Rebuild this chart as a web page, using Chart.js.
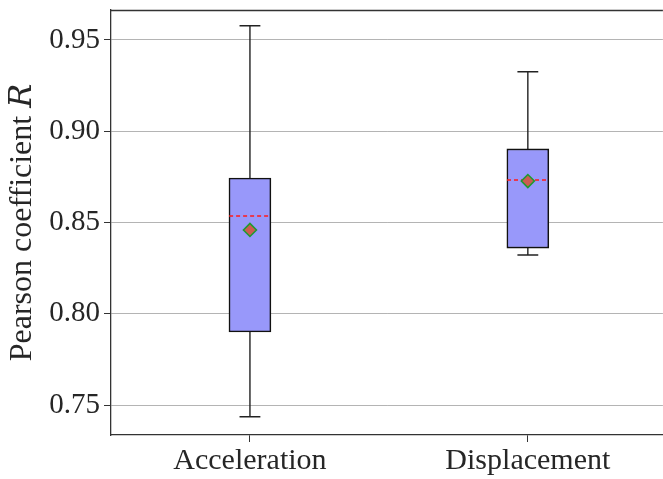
<!DOCTYPE html>
<html><head><meta charset="utf-8">
<script src="https://cdn.jsdelivr.net/npm/chart.js@4"></script>
<style>html,body{margin:0;padding:0;background:#fff;overflow:hidden;width:663px;height:479px}</style>
</head><body>
<canvas id="c" width="671" height="479"></canvas>
<script>
// ---- data ----
const categories = ['Acceleration', 'Displacement'];
const whiskerLow = [0.7436, 0.8322];
const q1 = [0.7900, 0.8360];
const median = [0.8536, 0.8733];
const q3 = [0.8744, 0.8903];
const whiskerHigh = [0.9578, 0.9326];
const mean = [0.8459, 0.8727];
const yTicks = [0.75, 0.80, 0.85, 0.90, 0.95];
const yRange = [0.7336, 0.9664];
const xRange = [-0.5, 1.486];

// ---- styling constants ----
const BOX_W = 0.15;           // box width in category units
const CAP_HALF = BOX_W / 4;
const MED_HALF = BOX_W / 2;
const FONT = "'Liberation Serif', 'DejaVu Serif', serif";

const positions = categories.map((_, i) => i);

const whiskerData = [];
positions.forEach(i => {
  whiskerData.push({x: i, y: q3[i]}, {x: i, y: whiskerHigh[i]}, {x: i, y: null});
  whiskerData.push({x: i, y: q1[i]}, {x: i, y: whiskerLow[i]}, {x: i, y: null});
  whiskerData.push({x: i - CAP_HALF, y: whiskerHigh[i]}, {x: i + CAP_HALF, y: whiskerHigh[i]}, {x: i, y: null});
  whiskerData.push({x: i - CAP_HALF, y: whiskerLow[i]}, {x: i + CAP_HALF, y: whiskerLow[i]}, {x: i, y: null});
});
const medianData = [];
positions.forEach(i => {
  medianData.push({x: i - MED_HALF, y: median[i]}, {x: i + MED_HALF, y: median[i]}, {x: i, y: null});
});
const boxData = positions.map(i => ({x: i, y: [q1[i], q3[i]]}));
const meanData = positions.map(i => ({x: i, y: mean[i]}));

const topSpine = {
  id: 'topSpine',
  afterDatasetsDraw(chart) {
    const a = chart.chartArea, ctx = chart.ctx;
    ctx.save();
    ctx.strokeStyle = '#333';
    ctx.lineWidth = 1.3;
    ctx.beginPath();
    ctx.moveTo(a.left, a.top + 0.5);
    ctx.lineTo(a.right, a.top + 0.5);
    ctx.stroke();
    ctx.restore();
  }
};

new Chart(document.getElementById('c'), {
  type: 'bar',
  data: {
    datasets: [
      { type: 'scatter', data: meanData, order: 0,
        pointStyle: 'rectRot', pointRadius: 6.5, pointBackgroundColor: '#cd5c50',
        pointBorderColor: '#1f9a30', pointBorderWidth: 1.6 },
      { type: 'line', data: medianData, order: 1, borderColor: '#ff1a1a', borderWidth: 1.5,
        borderDash: [4, 3], pointRadius: 0, spanGaps: false, tension: 0 },
      { type: 'bar', data: boxData, order: 2, backgroundColor: '#9898fa', borderColor: '#111',
        borderWidth: 1.6, borderSkipped: false, barThickness: 42 },
      { type: 'line', data: whiskerData, order: 3, borderColor: '#222', borderWidth: 1.4,
        pointRadius: 0, spanGaps: false, tension: 0 }
    ]
  },
  options: {
    responsive: false,
    animation: false,
    layout: { padding: { top: 10, left: 0, right: 0, bottom: 0 } },
    plugins: { legend: { display: false }, tooltip: { enabled: false } },
    scales: {
      x: {
        type: 'linear', min: xRange[0], max: xRange[1], offset: false,
        afterBuildTicks: s => { s.ticks = positions.map(v => ({value: v})); },
        afterFit: s => { s.height = 44; s.paddingLeft = 0; s.paddingRight = 0; },
        ticks: { callback: v => categories[v], font: { family: FONT, size: 30 }, color: '#262626', padding: 1, maxRotation: 0 },
        grid: { offset: false, drawOnChartArea: false, drawTicks: true, tickLength: 7, tickColor: '#333', lineWidth: 1 },
        border: { display: true, color: '#333', width: 1.3 }
      },
      y: {
        type: 'linear', min: yRange[0], max: yRange[1],
        afterBuildTicks: s => { s.ticks = yTicks.map(v => ({value: v})); },
        afterFit: s => { s.width = 111; s.paddingTop = 0; s.paddingBottom = 0; },
        ticks: { callback: v => v.toFixed(2), font: { family: FONT, size: 29 }, color: '#262626', padding: 4 },
        grid: { color: '#b4b4b4', lineWidth: 1, tickColor: '#333', tickLength: 7 },
        border: { display: true, color: '#333', width: 1.3 },
        title: { display: true, text: 'Pearson coefficient \u{1D445}', font: { family: FONT, size: 32 }, color: '#262626', padding: { top: 3, bottom: 0 } }
      }
    }
  },
  plugins: [topSpine]
});
</script>
</body></html>
